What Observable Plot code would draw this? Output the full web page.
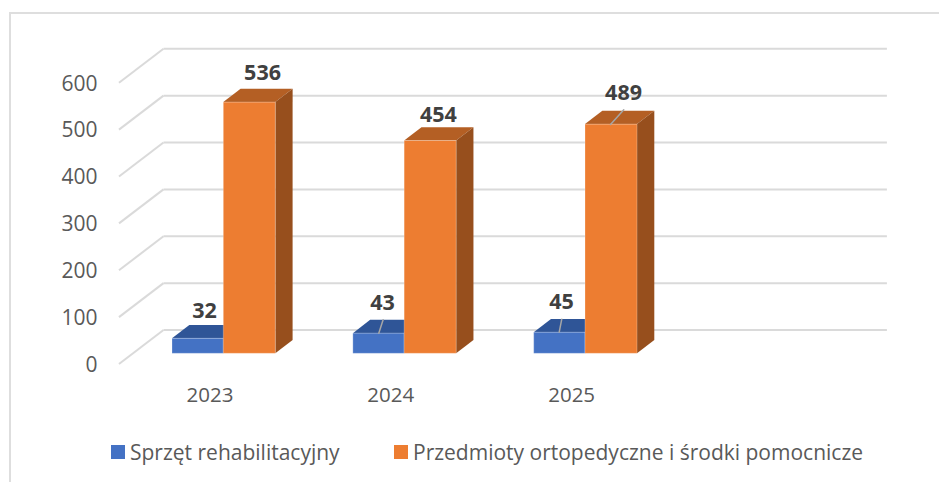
<!DOCTYPE html>
<html lang="pl">
<head>
<meta charset="utf-8">
<script src="https://cdn.jsdelivr.net/npm/d3@7"></script>
<script src="https://cdn.jsdelivr.net/npm/@observablehq/plot@0.6"></script>
<style>
  html, body { margin: 0; padding: 0; background: #fff; overflow: hidden; }
  #wrap { position: relative; width: 939px; height: 482px; font-family: "Open Sans", sans-serif; }
  #frame { position: absolute; left: 9px; top: 12px; right: 0; bottom: 0; border-top: 2px solid #dedede; border-left: 2px solid #dedede; }
  #chart { position: absolute; left: 0; top: 0; }
  #chart svg { display: block; background: transparent; }
  #legend { position: absolute; left: 0; top: 436px; width: 939px; height: 32px; color: #595959; font-size: 21px; line-height: 32px; }
  .item { position: absolute; top: 0; white-space: nowrap; }
  .swatch { position: absolute; top: 9px; width: 14px; height: 14px; }
</style>
</head>
<body>
<div id="wrap">
  <div id="frame"></div>
  <div id="chart"></div>
  <div id="legend"></div>
</div>
<script>
// Data
const years = ["2023", "2024", "2025"];
const seriesNames = ["Sprzęt rehabilitacyjny", "Przedmioty ortopedyczne i środki pomocnicze"];
const equipment = [32, 43, 45];
const orthopedic = [536, 454, 489];
const yTicks = [0, 100, 200, 300, 400, 500, 600];

// Styles and layout
const font = '"Open Sans", sans-serif';
const colors = {
  blue: { front: "#4472c4", top: "#2f5597", side: "#264478" },
  orange: { front: "#ed7d31", top: "#b45f24", side: "#974f1d" }
};
const grid = "#dadada";
const wall = { dx: 44.5, dy: -34 };   // floor depth, front edge to back wall
const depth = { dx: 17.3, dy: -13.3 }; // bar depth
const barLift = -10.2;                // bars stand inside the floor

const rows = (vals, series) => years.map((year, i) => ({ year, value: vals[i], series }));
const blueRows = rows(equipment, 0);
const orangeRows = rows(orthopedic, 1);

// Label offsets, per series and year, in pixels
const nudges = {
  "0-2023": [-5.4, -37.5], "0-2024": [-8.3, -40.3], "0-2025": [-10.1, -40.4],
  "1-2023": [52.6, -39.3], "1-2024": [47.7, -35.7], "1-2025": [51.9, -41.3]
};
// Leader lines: origin offset, length, angle
const leaders = {
  "0-2024": [-12, -10.6, 14.1, 18],
  "0-2025": [-12.4, -10.7, 13.3, 11],
  "1-2025": [38.9, -10.3, 19.8, 42]
};

// Draws the top and side faces behind the bar rectangles the library produced
function bar3d(palette) {
  return function (index, scales, values, dimensions, context, next) {
    const g = next(index, scales, values, dimensions, context);
    const rects = Array.from(g.querySelectorAll("rect"));
    const first = rects[0];
    for (const r of rects) {
      const x = +r.getAttribute("x"), y = +r.getAttribute("y");
      const w = +r.getAttribute("width"), h = +r.getAttribute("height");
      const { dx, dy } = depth;
      const faces = [
        [palette.top, [[x, y], [x + w, y], [x + w + dx, y + dy], [x + dx, y + dy]]],
        [palette.side, [[x + w, y], [x + w + dx, y + dy], [x + w + dx, y + h + dy], [x + w, y + h]]]
      ];
      for (const [fill, pts] of faces) {
        const p = document.createElementNS("http://www.w3.org/2000/svg", "polygon");
        p.setAttribute("points", pts.map(q => q.join(",")).join(" "));
        p.setAttribute("fill", fill);
        p.setAttribute("stroke", "none");
        r.parentNode.insertBefore(p, first);
      }
    }
    return g;
  };
}

// Adds the floor diagonals at the front of each back-wall grid line
function diagonals(index, scales, values, dimensions, context, next) {
  const g = next(index, scales, values, dimensions, context);
  for (const l of Array.from(g.querySelectorAll("line"))) {
    const x = +l.getAttribute("x1"), y = +l.getAttribute("y1");
    const d = document.createElementNS("http://www.w3.org/2000/svg", "line");
    d.setAttribute("x1", x); d.setAttribute("y1", y);
    d.setAttribute("x2", x + wall.dx); d.setAttribute("y2", y + wall.dy);
    l.parentNode.appendChild(d);
    l.setAttribute("transform", `translate(${wall.dx},${wall.dy})`);
  }
  return g;
}

const labelMarks = [...blueRows, ...orangeRows].map(d => {
  const [dx, dy] = nudges[`${d.series}-${d.year}`];
  return Plot.text([d], {
    x: "year", y: "value", text: d => String(d.value), dx, dy,
    fontSize: 21.5, fontWeight: "bold", fill: "#404040", fontFamily: font
  });
});

const leaderMarks = [...blueRows, ...orangeRows]
  .filter(d => leaders[`${d.series}-${d.year}`])
  .map(d => {
    const [dx, dy, length, rotate] = leaders[`${d.series}-${d.year}`];
    return Plot.vector([d], {
      x: "year", y: "value", dx, dy, length, rotate, anchor: "start",
      stroke: "#a6a6a6", strokeWidth: 1.5,
      shape: { draw(c, l) { c.moveTo(0, 0); c.lineTo(0, -l); } }
    });
  });

const chart = Plot.plot({
  width: 939,
  height: 430,
  marginLeft: 119,
  marginRight: 96.6,
  marginTop: 0,
  marginBottom: 66.5,
  style: { background: "transparent", fontFamily: font },
  x: { type: "band", domain: [...years, ""], padding: 0, round: false, axis: null },
  y: { domain: [0, 600], range: [363.5, 82.3], axis: null },
  marks: [
    Plot.ruleY(yTicks, { stroke: grid, strokeWidth: 2, render: diagonals }),
    Plot.axisY(yTicks, {
      tickSize: 0, tickPadding: 22, fontSize: 21, fill: "#595959",
      label: null, fontFamily: font, dy: 1
    }),
    Plot.axisX(years, {
      tickSize: 0, tickPadding: 23, fontSize: 20.5, fill: "#595959",
      label: null, fontFamily: font
    }),
    Plot.barY(blueRows, {
      x: "year", y: "value", fill: colors.blue.front, dy: barLift,
      stroke: "#ffffff", strokeOpacity: 0.25, strokeWidth: 1,
      insetLeft: 53, insetRight: 76.55, render: bar3d(colors.blue)
    }),
    Plot.barY(orangeRows, {
      x: "year", y: "value", fill: colors.orange.front, dy: barLift,
      stroke: "#ffffff", strokeOpacity: 0.25, strokeWidth: 1,
      insetLeft: 104.3, insetRight: 24.55, render: bar3d(colors.orange)
    }),
    ...leaderMarks,
    ...labelMarks
  ]
});
document.getElementById("chart").appendChild(chart);

// Legend
const legend = document.getElementById("legend");
[[111, 130, colors.blue.front], [394, 413, colors.orange.front]].forEach(([sx, tx, color], i) => {
  const s = document.createElement("div");
  s.className = "swatch"; s.style.left = sx + "px"; s.style.background = color;
  const t = document.createElement("div");
  t.className = "item"; t.style.left = tx + "px"; t.textContent = seriesNames[i];
  legend.append(s, t);
});
</script>
</body>
</html>
